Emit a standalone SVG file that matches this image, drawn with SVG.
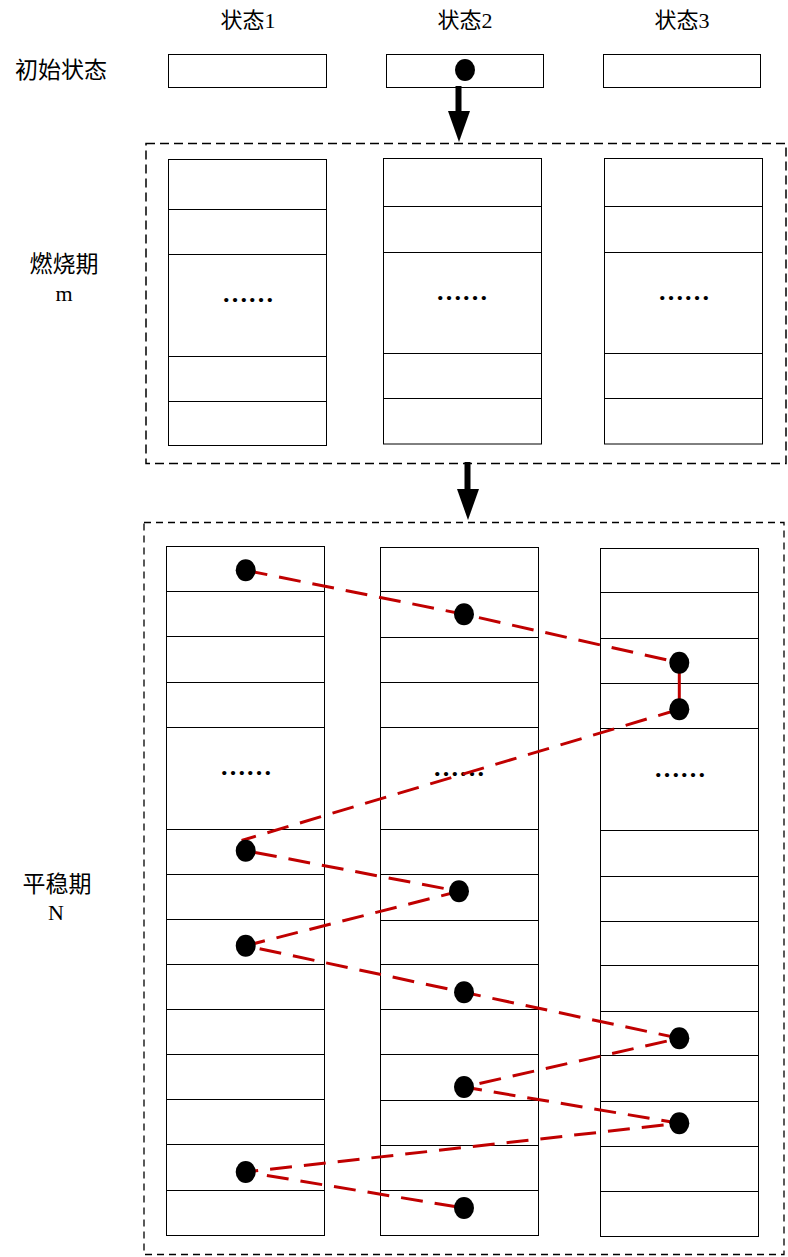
<svg xmlns="http://www.w3.org/2000/svg" width="788" height="1257" viewBox="0 0 788 1257">
<style>
.lbl{font-family:"Liberation Serif","Noto Sans CJK SC",serif;font-size:22px;fill:#000;text-anchor:middle}
.side{font-size:23px}
.ell{font-family:"Liberation Serif",serif;font-size:26px;font-weight:bold;fill:#000;text-anchor:middle}
.cell{fill:#fff;stroke:#000;stroke-width:1}
.row{stroke:#000;stroke-width:1}
.grp{fill:none;stroke:#000;stroke-width:1.5;stroke-dasharray:9 5}
.grp2{fill:none;stroke:#000;stroke-width:1.3;stroke-dasharray:7 5}
.red{fill:none;stroke:#C00000;stroke-width:3;stroke-dasharray:22 12}
.dot{fill:#000}
</style>
<rect width="788" height="1257" fill="#fff"/>

<g id="headers">
<text class="lbl" x="248" y="28">状态1</text>
<text class="lbl" x="465" y="28">状态2</text>
<text class="lbl" x="682" y="28">状态3</text>
</g>

<g id="side-labels">
<text class="lbl side" x="61" y="78">初始状态</text>
<text class="lbl side" x="64" y="272">燃烧期</text>
<text class="lbl" x="64" y="301">m</text>
<text class="lbl side" x="57" y="892">平稳期</text>
<text class="lbl" x="56" y="920">N</text>
</g>

<g id="initial">
<rect class="cell" x="168.5" y="54.5" width="158" height="33"/>
<rect class="cell" x="386.5" y="54.5" width="157" height="33"/>
<rect class="cell" x="603.5" y="54.5" width="157" height="33"/>
<ellipse class="dot" cx="465" cy="70" rx="10" ry="11"/>
</g>

<g id="burnin">
<rect class="grp" x="146" y="143.5" width="640" height="320"/>
<g id="burn-col1">
<rect class="cell" x="168.5" y="159.5" width="158" height="286"/>
<path class="row" d="M168.5 209.5H326.5M168.5 254.5H326.5M168.5 356.5H326.5M168.5 401.5H326.5"/>
<text class="ell" x="248" y="302">……</text>
</g>
<g id="burn-col2">
<rect class="cell" x="383.5" y="158.5" width="158" height="285.5"/>
<path class="row" d="M383.5 206.5H541.5M383.5 252.5H541.5M383.5 353.5H541.5M383.5 398.5H541.5"/>
<text class="ell" x="462" y="300">……</text>
</g>
<g id="burn-col3">
<rect class="cell" x="604.5" y="158.5" width="158" height="285.5"/>
<path class="row" d="M604.5 206.5H762.5M604.5 252.5H762.5M604.5 353.5H762.5M604.5 398.5H762.5"/>
<text class="ell" x="684" y="300">……</text>
</g>
</g>

<g id="stable">
<rect class="grp2" x="144" y="522.5" width="640" height="732"/>
<g id="stable-col1">
<rect class="cell" x="166.5" y="546.5" width="158" height="689"/>
<path class="row" d="M166.5 591.5H324.5M166.5 636.5H324.5M166.5 682.5H324.5M166.5 727.5H324.5M166.5 829.5H324.5M166.5 874.5H324.5M166.5 919.5H324.5M166.5 964.5H324.5M166.5 1009.5H324.5M166.5 1054.5H324.5M166.5 1099.5H324.5M166.5 1144.5H324.5M166.5 1190.5H324.5"/>
<text class="ell" x="246" y="775">……</text>
</g>
<g id="stable-col2">
<rect class="cell" x="380.5" y="547.5" width="158" height="688"/>
<path class="row" d="M380.5 591.5H538.5M380.5 637.5H538.5M380.5 682.5H538.5M380.5 727.5H538.5M380.5 829.5H538.5M380.5 874.5H538.5M380.5 920.5H538.5M380.5 964.5H538.5M380.5 1009.5H538.5M380.5 1054.5H538.5M380.5 1100.5H538.5M380.5 1145.5H538.5M380.5 1190.5H538.5"/>
<text class="ell" x="459" y="776">……</text>
</g>
<g id="stable-col3">
<rect class="cell" x="600.5" y="548.5" width="158" height="688"/>
<path class="row" d="M600.5 592.5H758.5M600.5 638.5H758.5M600.5 683.5H758.5M600.5 728.5H758.5M600.5 830.5H758.5M600.5 876.5H758.5M600.5 921.5H758.5M600.5 965.5H758.5M600.5 1011.5H758.5M600.5 1055.5H758.5M600.5 1101.5H758.5M600.5 1146.5H758.5M600.5 1191.5H758.5"/>
<text class="ell" x="680" y="777">……</text>
</g>
</g>

<g id="connectors">
<path d="M458.5 86V113" stroke="#000" stroke-width="6" fill="none"/>
<polygon points="448,111 470,111 459,142" fill="#000"/>
<path d="M467.5 462V491" stroke="#000" stroke-width="6" fill="none"/>
<polygon points="457,489 479,489 468,520" fill="#000"/>
<path class="red" d="M245.7 570.3L464 614.3L679.3 662.7"/>
<path d="M679.3 670V700" stroke="#C00000" stroke-width="3"/>
<path class="red" d="M679.3 709.3L243 840L245.7 850.7L459 891.3L245.7 945.7L464 992.3L679.3 1038.3L464 1087L679.3 1123.3L245.7 1172L464 1208"/>
</g>

<g id="points">
<ellipse class="dot" cx="245.7" cy="570.3" rx="10" ry="11"/>
<ellipse class="dot" cx="464" cy="614.3" rx="10" ry="11"/>
<ellipse class="dot" cx="679.3" cy="662.7" rx="10" ry="11"/>
<ellipse class="dot" cx="679.3" cy="709.3" rx="10" ry="11"/>
<ellipse class="dot" cx="245.7" cy="850.7" rx="10" ry="11"/>
<ellipse class="dot" cx="459" cy="891.3" rx="10" ry="11"/>
<ellipse class="dot" cx="245.7" cy="945.7" rx="10" ry="11"/>
<ellipse class="dot" cx="464" cy="992.3" rx="10" ry="11"/>
<ellipse class="dot" cx="679.3" cy="1038.3" rx="10" ry="11"/>
<ellipse class="dot" cx="464" cy="1087" rx="10" ry="11"/>
<ellipse class="dot" cx="679.3" cy="1123.3" rx="10" ry="11"/>
<ellipse class="dot" cx="245.7" cy="1172" rx="10" ry="11"/>
<ellipse class="dot" cx="464" cy="1208" rx="10" ry="11"/>
</g>
</svg>
